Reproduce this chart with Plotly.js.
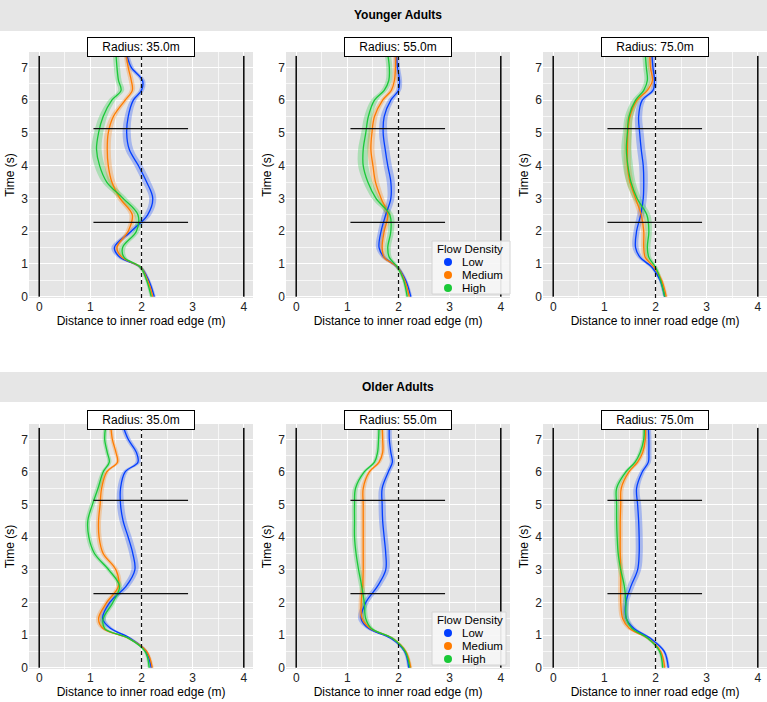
<!DOCTYPE html>
<html>
<head>
<meta charset="utf-8">
<script src="https://cdn.plot.ly/plotly-3.0.1.min.js"></script>
<style>html,body{margin:0;padding:0;background:#fff;}#chart{width:767px;height:702px;}</style>
</head>
<body>
<div id="chart"></div>
<script>
// ---------- data ----------
const times = [0, 0.5, 0.9, 1.2, 1.5, 2, 2.5, 3, 3.5, 4, 4.5, 5, 5.5, 6, 6.3, 6.6, 7, 7.4];

const groups = ["Younger Adults", "Older Adults"];
const radii = ["Radius: 35.0m", "Radius: 55.0m", "Radius: 75.0m"];
const levels = ["Low", "Medium", "High"];
const legendTitle = "Flow Density";
const levelColors = ["#023eff", "#ff7c00", "#1ac938"];
const levelFills = ["rgba(2,62,255,0.28)", "rgba(255,124,0,0.28)", "rgba(26,201,56,0.28)"];

// Younger adults
const young_r35_low  = [2.25, 2.14, 1.98, 1.58, 1.47, 1.80, 2.12, 2.22, 2.10, 1.94, 1.76, 1.71, 1.74, 1.84, 2.00, 2.02, 1.80, 1.71];
const young_r35_med  = [2.22, 2.12, 1.98, 1.62, 1.52, 1.74, 1.82, 1.58, 1.42, 1.35, 1.33, 1.35, 1.45, 1.68, 1.82, 1.80, 1.74, 1.70];
const young_r35_high = [2.19, 2.10, 1.98, 1.66, 1.63, 1.90, 1.93, 1.64, 1.32, 1.18, 1.12, 1.16, 1.25, 1.42, 1.60, 1.55, 1.52, 1.50];

const young_r55_low  = [2.24, 2.14, 1.98, 1.72, 1.62, 1.66, 1.75, 1.85, 1.85, 1.79, 1.74, 1.70, 1.72, 1.85, 2.00, 2.02, 1.98, 1.96];
const young_r55_med  = [2.21, 2.12, 1.98, 1.72, 1.68, 1.72, 1.79, 1.66, 1.55, 1.50, 1.46, 1.48, 1.53, 1.69, 1.86, 1.92, 1.94, 1.95];
const young_r55_high = [2.17, 2.10, 1.98, 1.82, 1.79, 1.85, 1.83, 1.56, 1.40, 1.31, 1.31, 1.36, 1.41, 1.53, 1.72, 1.81, 1.82, 1.79];

const young_r75_low  = [2.18, 2.09, 1.93, 1.70, 1.61, 1.63, 1.71, 1.76, 1.77, 1.76, 1.72, 1.69, 1.67, 1.74, 1.95, 1.98, 1.95, 1.93];
const young_r75_med  = [2.21, 2.12, 1.97, 1.80, 1.77, 1.77, 1.72, 1.61, 1.50, 1.45, 1.45, 1.46, 1.50, 1.64, 1.84, 1.94, 1.90, 1.89];
const young_r75_high = [2.18, 2.10, 2.00, 1.87, 1.84, 1.87, 1.83, 1.64, 1.52, 1.46, 1.43, 1.45, 1.48, 1.61, 1.77, 1.84, 1.82, 1.80];

// Older adults
const old_r35_low  = [2.19, 2.09, 1.78, 1.40, 1.24, 1.38, 1.70, 1.87, 1.83, 1.74, 1.64, 1.59, 1.59, 1.68, 1.93, 1.90, 1.74, 1.64];
const old_r35_med  = [2.21, 2.10, 1.75, 1.25, 1.16, 1.32, 1.55, 1.50, 1.25, 1.17, 1.16, 1.19, 1.22, 1.32, 1.53, 1.50, 1.43, 1.40];
const old_r35_high = [2.15, 2.07, 1.75, 1.28, 1.25, 1.44, 1.57, 1.36, 1.08, 0.97, 0.95, 1.04, 1.15, 1.25, 1.37, 1.33, 1.28, 1.30];

const old_r55_low  = [2.20, 2.12, 1.85, 1.42, 1.27, 1.36, 1.59, 1.75, 1.75, 1.72, 1.69, 1.68, 1.68, 1.80, 1.88, 1.85, 1.82, 1.82];
const old_r55_med  = [2.24, 2.14, 1.88, 1.45, 1.29, 1.27, 1.30, 1.31, 1.31, 1.31, 1.31, 1.31, 1.31, 1.43, 1.62, 1.69, 1.69, 1.68];
const old_r55_high = [2.22, 2.13, 1.88, 1.47, 1.36, 1.33, 1.28, 1.22, 1.17, 1.14, 1.14, 1.14, 1.16, 1.33, 1.53, 1.59, 1.61, 1.62];

const old_r75_low  = [2.25, 2.17, 1.90, 1.58, 1.43, 1.42, 1.52, 1.65, 1.68, 1.68, 1.67, 1.65, 1.63, 1.74, 1.86, 1.87, 1.87, 1.86];
const old_r75_med  = [2.18, 2.10, 1.85, 1.49, 1.36, 1.32, 1.32, 1.32, 1.31, 1.31, 1.31, 1.32, 1.33, 1.48, 1.65, 1.75, 1.80, 1.80];
const old_r75_high = [2.14, 2.08, 1.85, 1.54, 1.43, 1.42, 1.39, 1.32, 1.27, 1.25, 1.24, 1.24, 1.24, 1.42, 1.60, 1.70, 1.77, 1.78];

// confidence band half-widths (m)
const ci_young_low  = [0.03, 0.03, 0.04, 0.05, 0.06, 0.06, 0.07, 0.07, 0.08, 0.08, 0.08, 0.08, 0.07, 0.06, 0.05, 0.05, 0.05, 0.05];
const ci_young_med  = [0.03, 0.03, 0.04, 0.05, 0.05, 0.05, 0.06, 0.06, 0.07, 0.07, 0.07, 0.07, 0.06, 0.05, 0.05, 0.05, 0.05, 0.05];
const ci_young_high = [0.03, 0.03, 0.04, 0.05, 0.06, 0.06, 0.07, 0.08, 0.09, 0.10, 0.10, 0.09, 0.08, 0.07, 0.06, 0.06, 0.06, 0.06];
const ci_old_low    = [0.03, 0.03, 0.04, 0.05, 0.06, 0.06, 0.07, 0.07, 0.07, 0.07, 0.07, 0.07, 0.06, 0.05, 0.05, 0.05, 0.05, 0.05];
const ci_old_med    = [0.03, 0.03, 0.04, 0.05, 0.05, 0.05, 0.05, 0.05, 0.05, 0.05, 0.05, 0.05, 0.05, 0.04, 0.04, 0.04, 0.04, 0.04];
const ci_old_high   = [0.03, 0.03, 0.04, 0.05, 0.05, 0.05, 0.05, 0.05, 0.05, 0.05, 0.05, 0.05, 0.05, 0.04, 0.04, 0.04, 0.04, 0.04];

// reference lines
const roadEdges = [0, 4];
const laneCenter = 2;
const phaseTimes = [2.27, 5.13];
const phaseLineX = [1.06, 2.91];
const edgeTop = 7.35;

const panels = [
  {series: [young_r35_low, young_r35_med, young_r35_high], ci: [ci_young_low, ci_young_med, ci_young_high]},
  {series: [young_r55_low, young_r55_med, young_r55_high], ci: [ci_young_low, ci_young_med, ci_young_high]},
  {series: [young_r75_low, young_r75_med, young_r75_high], ci: [ci_young_low, ci_young_med, ci_young_high]},
  {series: [old_r35_low, old_r35_med, old_r35_high], ci: [ci_old_low, ci_old_med, ci_old_high]},
  {series: [old_r55_low, old_r55_med, old_r55_high], ci: [ci_old_low, ci_old_med, ci_old_high]},
  {series: [old_r75_low, old_r75_med, old_r75_high], ci: [ci_old_low, ci_old_med, ci_old_high]},
];

// ---------- layout geometry ----------
const W = 767, H = 702;
const FONT = "Liberation Sans, Arial, Helvetica, sans-serif";
const colPx = [[29, 253], [286, 510], [543, 767]];
const rowPx = [[52, 298], [424, 669]];
const stripPx = [[0, 31], [372, 402]];
const legendBoxPx = [{x0: 432, x1: 510, y0: 241, y1: 294}, {x0: 432, x1: 506, y0: 612, y1: 665}];
const xr = [-0.2, 4.18];
const yr = [-0.04, 7.47];

const traces = [];
const layout = {
  width: W, height: H,
  margin: {l: 0, r: 0, t: 0, b: 0},
  paper_bgcolor: "#ffffff",
  plot_bgcolor: "#e5e5e5",
  font: {family: FONT, size: 12, color: "#000"},
  showlegend: false,
  shapes: [],
  annotations: []
};

const px2fx = p => p / W;
const px2fy = p => 1 - p / H;

panels.forEach((pn, i) => {
  const r = Math.floor(i / 3), c = i % 3;
  const sfx = i === 0 ? "" : String(i + 1);
  const xa = "x" + sfx, ya = "y" + sfx;

  layout["xaxis" + sfx] = {
    domain: [px2fx(colPx[c][0]), px2fx(colPx[c][1])],
    anchor: ya, range: xr, tickvals: [0, 1, 2, 3, 4], ticktext: ["0", "1", "2", "3", "4"],
    showgrid: true, gridcolor: "#ffffff", gridwidth: 1,
    minor: {tickvals: [0.5, 1.5, 2.5, 3.5], showgrid: true, gridcolor: "#ffffff", gridwidth: 0.7},
    zeroline: false, showline: false, ticks: "", fixedrange: true,
    tickfont: {family: FONT, size: 12, color: "#222"},
    title: {text: "Distance to inner road edge (m)", font: {family: FONT, size: 12, color: "#000"}, standoff: 3}
  };
  layout["yaxis" + sfx] = {
    domain: [px2fy(rowPx[r][1]), px2fy(rowPx[r][0])],
    anchor: xa, range: yr, tickvals: [0, 1, 2, 3, 4, 5, 6, 7],
    showgrid: true, gridcolor: "#ffffff", gridwidth: 1,
    minor: {tickvals: [0.5, 1.5, 2.5, 3.5, 4.5, 5.5, 6.5], showgrid: true, gridcolor: "#ffffff", gridwidth: 0.7},
    zeroline: false, showline: false, ticks: "", fixedrange: true,
    tickfont: {family: FONT, size: 12, color: "#222"},
    title: {text: "Time (s)", font: {family: FONT, size: 12, color: "#000"}, standoff: 4}
  };

  // reference shapes
  roadEdges.forEach(e => layout.shapes.push({type: "line", xref: xa, yref: ya, x0: e, x1: e, y0: 0, y1: edgeTop,
    line: {color: "#111", width: 1.6}, layer: "above"}));
  layout.shapes.push({type: "line", xref: xa, yref: ya, x0: laneCenter, x1: laneCenter, y0: yr[0], y1: yr[1],
    line: {color: "#111", width: 1.2, dash: "4px,3px"}, layer: "above"});
  phaseTimes.forEach(t => layout.shapes.push({type: "line", xref: xa, yref: ya, x0: phaseLineX[0], x1: phaseLineX[1], y0: t, y1: t,
    line: {color: "#111", width: 1.4}, layer: "above"}));

  // confidence bands
  pn.series.forEach((vals, k) => {
    const ci = pn.ci[k];
    traces.push({type: "scatter", mode: "lines", xaxis: xa, yaxis: ya,
      x: vals.map((v, j) => v - ci[j]), y: times, line: {width: 0, shape: "spline", color: levelColors[k]},
      showlegend: false, hoverinfo: "skip"});
    traces.push({type: "scatter", mode: "lines", xaxis: xa, yaxis: ya,
      x: vals.map((v, j) => v + ci[j]), y: times, line: {width: 0, shape: "spline", color: levelColors[k]},
      fill: "tonextx", fillcolor: levelFills[k], showlegend: false, hoverinfo: "skip"});
  });
  // mean lines
  pn.series.forEach((vals, k) => {
    traces.push({type: "scatter", mode: "lines", xaxis: xa, yaxis: ya,
      x: vals, y: times, name: levels[k], line: {width: 1.3, shape: "spline", color: levelColors[k]},
      showlegend: false});
  });

  // panel label box
  layout.annotations.push({xref: "paper", yref: "paper",
    x: (px2fx(colPx[c][0]) + px2fx(colPx[c][1])) / 2, y: px2fy(r === 0 ? 47 : 420),
    xanchor: "center", yanchor: "middle", text: radii[c], showarrow: false,
    font: {family: FONT, size: 12, color: "#000"},
    bgcolor: "#ffffff", bordercolor: "#000", borderwidth: 1, width: 104, height: 16});
});

// strips
groups.forEach((g, r) => {
  layout.shapes.push({type: "rect", xref: "paper", yref: "paper", x0: 0, x1: 1,
    y0: px2fy(stripPx[r][1]), y1: px2fy(stripPx[r][0]), fillcolor: "#e6e6e6", line: {width: 0}, layer: "below"});
  layout.annotations.push({xref: "paper", yref: "paper", x: px2fx(398), y: px2fy((stripPx[r][0] + stripPx[r][1]) / 2),
    xanchor: "center", yanchor: "middle", text: "<b>" + g + "</b>", showarrow: false,
    font: {family: FONT, size: 12, color: "#000"}});
});

// legends (compact, drawn in the middle panel of each row)
legendBoxPx.forEach(b => {
  layout.shapes.push({type: "rect", xref: "paper", yref: "paper", x0: px2fx(b.x0), x1: px2fx(b.x1),
    y0: px2fy(b.y1), y1: px2fy(b.y0), fillcolor: "rgba(246,246,246,0.92)", line: {color: "#d4d4d4", width: 1}, layer: "above"});
  layout.annotations.push({xref: "paper", yref: "paper", x: px2fx(b.x0 + 4), y: px2fy(b.y0 + 8),
    xanchor: "left", yanchor: "middle", text: legendTitle, showarrow: false, borderpad: 0,
    font: {family: FONT, size: 11.5, color: "#000"}});
  levels.forEach((lv, k) => {
    const cy = b.y0 + 21 + k * 13;
    layout.shapes.push({type: "circle", xref: "paper", yref: "paper", xsizemode: "pixel", ysizemode: "pixel",
      xanchor: px2fx(b.x0 + 16), yanchor: px2fy(cy), x0: -4, x1: 4, y0: -4, y1: 4,
      fillcolor: levelColors[k], line: {width: 0}, layer: "above"});
    layout.annotations.push({xref: "paper", yref: "paper", x: px2fx(b.x0 + 29), y: px2fy(cy),
      xanchor: "left", yanchor: "middle", text: lv, showarrow: false, borderpad: 0,
      font: {family: FONT, size: 11.5, color: "#000"}});
  });
});

Plotly.newPlot("chart", traces, layout, {displayModeBar: false, staticPlot: true});
</script>
</body>
</html>
